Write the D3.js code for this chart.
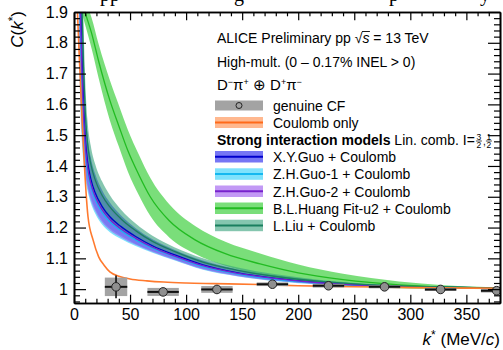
<!DOCTYPE html>
<html><head><meta charset="utf-8">
<script src="https://cdn.jsdelivr.net/npm/d3@7"></script>
<style>
body{margin:0;background:#fff}
svg{display:block}
text{font-family:"Liberation Sans",Arial,Helvetica,sans-serif;fill:#000}
</style>
</head><body><div id="chart"></div>
<script>
// ---------------- data ----------------
const xTicks = [0, 50, 100, 150, 200, 250, 300, 350];
const xMinor = [10,20,30,40,60,70,80,90,110,120,130,140,160,170,180,190,210,220,230,240,260,270,280,290,310,320,330,340,360,370];
const yTicks = [1, 1.1, 1.2, 1.3, 1.4, 1.5, 1.6, 1.7, 1.8, 1.9];
const yMinor = [0.96,0.98,1.02,1.04,1.06,1.08,1.12,1.14,1.16,1.18,1.22,1.24,1.26,1.28,1.32,1.34,1.36,1.38,1.42,1.44,1.46,1.48,1.52,1.54,1.56,1.58,1.62,1.64,1.66,1.68,1.72,1.74,1.76,1.78,1.82,1.84,1.86,1.88];

// genuine CF
const dataK    = [37.5, 79.5, 127.5, 177, 227, 277, 327, 377];
const dataC    = [1.0075, 0.991, 0.999, 1.016, 1.011, 1.0075, 0.999, 0.995];
const dataStat = [0.037, 0.010, 0.007, 0.005, 0.005, 0.004, 0.004, 0.004];
const dataSys  = [0.030, 0.013, 0.011, 0.006, 0.006, 0.005, 0.005, 0.006];
const dataKerr = [10, 14, 14, 14, 14, 14, 14, 14];

// Coulomb only
const coulombK = [2, 12.5, 17, 22, 27, 32, 40, 50, 65, 80, 100, 125, 165, 200, 250, 300, 380];
const coulombC = [2.0, 1.235, 1.16, 1.105, 1.077, 1.056, 1.042, 1.033, 1.027, 1.023, 1.020, 1.018, 1.015, 1.011, 1.008, 1.005, 1.003];

// strong-interaction models (common k grid)
const modelK = [4, 5, 6, 7, 8.5, 10, 12, 15, 19, 25, 32, 42, 55, 70, 90, 115, 145, 180, 220, 270, 320, 380];

const xyGuoLo  = [2.255,1.818,1.644,1.547,1.456,1.392,1.343,1.299,1.261,1.224,1.197,1.173,1.147,1.124,1.097,1.067,1.045,1.028,1.017,1.009,1.005,1.002];
const xyGuoMid = [2.591,2.132,1.913,1.761,1.603,1.494,1.417,1.358,1.312,1.269,1.235,1.203,1.171,1.141,1.111,1.079,1.054,1.035,1.021,1.011,1.007,1.003];
const xyGuoHi  = [2.990,2.504,2.232,2.016,1.778,1.616,1.504,1.428,1.373,1.322,1.281,1.239,1.198,1.162,1.127,1.093,1.065,1.044,1.027,1.014,1.008,1.004];

const zhGuo1Lo  = [2.150,1.720,1.560,1.480,1.410,1.360,1.320,1.280,1.245,1.210,1.185,1.163,1.140,1.118,1.093,1.063,1.042,1.026,1.015,1.008,1.005,1.002];
const zhGuo1Mid = [2.444,1.994,1.795,1.668,1.539,1.450,1.384,1.332,1.290,1.249,1.219,1.190,1.160,1.133,1.105,1.073,1.050,1.032,1.019,1.010,1.006,1.0026];
const zhGuo1Hi  = [2.780,2.308,2.064,1.882,1.686,1.552,1.458,1.391,1.341,1.294,1.257,1.220,1.184,1.151,1.118,1.085,1.059,1.039,1.024,1.013,1.007,1.003];

const zhGuo2Lo  = [2.203,1.769,1.602,1.514,1.433,1.376,1.332,1.289,1.253,1.217,1.191,1.168,1.144,1.121,1.095,1.065,1.043,1.027,1.016,1.008,1.005,1.002];
const zhGuo2Mid = [2.510,2.060,1.850,1.712,1.568,1.470,1.399,1.343,1.300,1.258,1.226,1.195,1.165,1.136,1.107,1.076,1.052,1.034,1.020,1.011,1.006,1.003];
const zhGuo2Hi  = [2.885,2.406,2.148,1.949,1.732,1.584,1.481,1.410,1.357,1.308,1.269,1.230,1.191,1.157,1.122,1.089,1.062,1.041,1.026,1.014,1.008,1.0035];

const liuLo  = [2.518,2.063,1.854,1.715,1.571,1.472,1.401,1.345,1.301,1.259,1.227,1.196,1.166,1.137,1.108,1.076,1.052,1.034,1.020,1.011,1.006,1.003];
const liuMid = [2.864,2.386,2.131,1.936,1.723,1.578,1.476,1.406,1.354,1.305,1.267,1.228,1.190,1.155,1.122,1.088,1.062,1.041,1.025,1.013,1.008,1.003];
const liuHi  = [3.200,2.700,2.400,2.150,1.870,1.680,1.550,1.465,1.405,1.350,1.305,1.258,1.213,1.173,1.135,1.100,1.071,1.048,1.030,1.016,1.009,1.004];

// B.L.Huang Fit-u2 (own k grid)
const huangK   = [5, 9.8, 15.8, 22, 32, 40, 48, 58, 68, 85, 108, 135, 166, 200, 240, 290, 330, 380];
const huangLo  = [1.925,1.860,1.780,1.685,1.548,1.463,1.382,1.304,1.238,1.168,1.115,1.076,1.048,1.026,1.012,1.003,1.001,1.000];
const huangMid = [1.960,1.900,1.830,1.740,1.613,1.530,1.450,1.370,1.300,1.222,1.160,1.115,1.082,1.053,1.031,1.014,1.007,1.003];
const huangHi  = [1.995,1.940,1.880,1.795,1.678,1.597,1.518,1.436,1.362,1.276,1.205,1.154,1.116,1.080,1.050,1.025,1.013,1.006];

// ---------------- chart ----------------
const W = 503, H = 350;
const svg = d3.select("#chart").append("svg").attr("width", W).attr("height", H);
const x = d3.scaleLinear().domain([0, 380]).range([74, 500]);
const y = d3.scaleLinear().domain([0.955, 1.9]).range([303, 12]);

// clipped title fragments at very top
svg.append("text")
  .attr("y", 0.5)
  .style("font-family", "'Liberation Serif','Times New Roman',serif")
  .style("font-size", "20px")
  .call(t => {
    t.append("tspan").attr("x", 100).text("pp");
    t.append("tspan").attr("x", 234).text("g");
    t.append("tspan").attr("x", 389).text("p");
    t.append("tspan").attr("x", 480).text("y");
  });

svg.append("clipPath").attr("id", "plotclip")
  .append("rect").attr("x", 74).attr("y", 12).attr("width", 426).attr("height", 291);
const plot = svg.append("g").attr("clip-path", "url(#plotclip)");

const models = [
  {name: "X.Y.Guo + Coulomb", K: modelK, lo: xyGuoLo, mid: xyGuoMid, hi: xyGuoHi, fill: "#3c3cf0", op: 0.7, line: "#0000cc"},
  {name: "Z.H.Guo-1 + Coulomb", K: modelK, lo: zhGuo1Lo, mid: zhGuo1Mid, hi: zhGuo1Hi, fill: "#2ed0fa", op: 0.62, line: "#14b8f0"},
  {name: "Z.H.Guo-2 + Coulomb", K: modelK, lo: zhGuo2Lo, mid: zhGuo2Mid, hi: zhGuo2Hi, fill: "#9955ee", op: 0.6, line: "#7722cc"},
  {name: "B.L.Huang Fit-u2 + Coulomb", K: huangK, lo: huangLo, mid: huangMid, hi: huangHi, fill: "#33cc33", op: 0.65, line: "#22bb22"},
  {name: "L.Liu + Coulomb", K: modelK, lo: liuLo, mid: liuMid, hi: liuHi, fill: "#33a07a", op: 0.6, line: "#1a7f5f"}
];

models.forEach(m => {
  const idx = d3.range(m.K.length);
  const area = d3.area().x(i => x(m.K[i])).y0(i => y(m.lo[i])).y1(i => y(m.hi[i])).curve(d3.curveMonotoneX);
  plot.append("path").attr("d", area(idx)).attr("fill", m.fill).attr("fill-opacity", m.op).attr("stroke", "none");
});
models.forEach(m => {
  const idx = d3.range(m.K.length);
  const line = d3.line().x(i => x(m.K[i])).y(i => y(m.mid[i])).curve(d3.curveMonotoneX);
  plot.append("path").attr("d", line(idx)).attr("fill", "none").attr("stroke", m.line).attr("stroke-width", 1.3);
});

// Coulomb line
{
  const idx = d3.range(coulombK.length);
  const line = d3.line().x(i => x(coulombK[i])).y(i => y(coulombC[i])).curve(d3.curveMonotoneX);
  plot.append("path").attr("d", line(idx)).attr("fill", "none").attr("stroke", "#ff7a2e").attr("stroke-width", 1.6);
}

// data points
const pts = plot.append("g");
dataK.forEach((k, i) => {
  pts.append("rect")
    .attr("x", x(k - dataKerr[i])).attr("width", x(k + dataKerr[i]) - x(k - dataKerr[i]))
    .attr("y", y(dataC[i] + dataSys[i])).attr("height", y(dataC[i] - dataSys[i]) - y(dataC[i] + dataSys[i]))
    .attr("fill", "#a3a3a3");
});
dataK.forEach((k, i) => {
  pts.append("line").attr("x1", x(k - dataKerr[i])).attr("x2", x(k + dataKerr[i]))
    .attr("y1", y(dataC[i])).attr("y2", y(dataC[i])).attr("stroke", "#111").attr("stroke-width", 2);
  pts.append("line").attr("x1", x(k)).attr("x2", x(k))
    .attr("y1", y(dataC[i] + dataStat[i])).attr("y2", y(dataC[i] - dataStat[i])).attr("stroke", "#111").attr("stroke-width", 1.6);
  pts.append("circle").attr("cx", x(k)).attr("cy", y(dataC[i])).attr("r", 4.3)
    .attr("fill", "#8f8f8f").attr("stroke", "#222").attr("stroke-width", 1);
});

// ---------------- axes ----------------
const axG = svg.append("g");
function styleAxis(g) {
  g.select(".domain").attr("stroke", "#000").attr("stroke-width", 1.6);
  g.selectAll(".tick line").attr("stroke", "#000").attr("stroke-width", 1.2);
  g.selectAll(".tick text").style("font-size", "16px").attr("fill", "#000");
}
axG.append("g").attr("transform", "translate(0,303)")
  .call(d3.axisBottom(x).tickValues(xTicks).tickSize(-8.3).tickSizeOuter(0).tickPadding(6).tickFormat(d3.format("d")))
  .call(styleAxis);
axG.append("g").attr("transform", "translate(0,303)")
  .call(d3.axisBottom(x).tickValues(xMinor).tickSize(-4.3).tickSizeOuter(0).tickFormat(""))
  .call(styleAxis);
axG.append("g").attr("transform", "translate(0,12)")
  .call(d3.axisTop(x).tickValues(xTicks).tickSize(-8.3).tickSizeOuter(0).tickFormat(""))
  .call(styleAxis);
axG.append("g").attr("transform", "translate(0,12)")
  .call(d3.axisTop(x).tickValues(xMinor).tickSize(-4.3).tickSizeOuter(0).tickFormat(""))
  .call(styleAxis);
axG.append("g").attr("transform", "translate(74,0)")
  .call(d3.axisLeft(y).tickValues(yTicks).tickSize(-12).tickSizeOuter(0).tickPadding(6).tickFormat(d3.format("~g")))
  .call(styleAxis);
axG.append("g").attr("transform", "translate(74,0)")
  .call(d3.axisLeft(y).tickValues(yMinor).tickSize(-6).tickSizeOuter(0).tickFormat(""))
  .call(styleAxis);
axG.append("g").attr("transform", "translate(500,0)")
  .call(d3.axisRight(y).tickValues(yTicks).tickSize(-12).tickSizeOuter(0).tickFormat(""))
  .call(styleAxis);
axG.append("g").attr("transform", "translate(500,0)")
  .call(d3.axisRight(y).tickValues(yMinor).tickSize(-6).tickSizeOuter(0).tickFormat(""))
  .call(styleAxis);
axG.selectAll(".tick text").style("font-family", "'Liberation Sans',Arial,sans-serif");

// axis titles
svg.append("text").attr("transform", "translate(23,11) rotate(-90)")
  .attr("text-anchor", "end").style("font-size", "17px")
  .call(t => {
    t.append("tspan").attr("font-style", "italic").text("C");
    t.append("tspan").text("(");
    t.append("tspan").attr("font-style", "italic").text("k");
    t.append("tspan").attr("dy", -6).style("font-size", "12px").text("*");
    t.append("tspan").attr("dy", 6).text(")");
  });
svg.append("text").attr("x", 500).attr("y", 345).attr("text-anchor", "end").style("font-size", "17px")
  .call(t => {
    t.append("tspan").attr("font-style", "italic").text("k");
    t.append("tspan").attr("dy", -6).style("font-size", "12px").text("*");
    t.append("tspan").attr("dy", 6).text(" (MeV/");
    t.append("tspan").attr("font-style", "italic").text("c");
    t.append("tspan").text(")");
  });

// ---------------- legend / labels ----------------
const lg = svg.append("g");
const t1 = lg.append("text").attr("x", 217).attr("y", 43).style("font-size", "14px");
t1.append("tspan").text("ALICE Preliminary pp \u221A");
t1.append("tspan").attr("font-style", "italic").text("s");
t1.append("tspan").text(" = 13 TeV");
{
  const n = t1.node();
  const full = "ALICE Preliminary pp \u221A";
  const ext1 = n.getExtentOfChar(full.length - 1);
  const ext2 = n.getExtentOfChar(full.length);
  lg.append("line").attr("x1", ext1.x + ext1.width - 0.5).attr("x2", ext2.x + ext2.width + 0.5)
    .attr("y1", ext1.y + 1.5).attr("y2", ext1.y + 1.5).attr("stroke", "#000").attr("stroke-width", 0.9);
}
lg.append("text").attr("x", 217).attr("y", 66.5).style("font-size", "14px")
  .text("High-mult. (0 \u2013 0.17% INEL > 0)");
lg.append("text").attr("x", 217).attr("y", 89.5).style("font-size", "15px")
  .call(t => {
    t.append("tspan").text("D");
    t.append("tspan").attr("dy", -5).style("font-size", "9px").text("\u2212");
    t.append("tspan").attr("dy", 5).text("\u03C0");
    t.append("tspan").attr("dy", -5).style("font-size", "9px").text("+");
    t.append("tspan").attr("dy", 5).text(" \u2295 D");
    t.append("tspan").attr("dy", -5).style("font-size", "9px").text("+");
    t.append("tspan").attr("dy", 5).text("\u03C0");
    t.append("tspan").attr("dy", -5).style("font-size", "9px").text("\u2212");
  });

const boxX = 215, boxW = 48, textX = 273;
// genuine CF entry
lg.append("rect").attr("x", boxX).attr("y", 100.5).attr("width", boxW).attr("height", 10).attr("fill", "#a3a3a3");
lg.append("circle").attr("cx", boxX + boxW / 2).attr("cy", 105.5).attr("r", 3).attr("fill", "#a3a3a3").attr("stroke", "#222").attr("stroke-width", 1);
lg.append("text").attr("x", textX).attr("y", 110.5).style("font-size", "14px").text("genuine CF");
// Coulomb entry
lg.append("rect").attr("x", boxX).attr("y", 117).attr("width", boxW).attr("height", 11).attr("fill", "#ff8844").attr("fill-opacity", 0.6);
lg.append("line").attr("x1", boxX).attr("x2", boxX + boxW).attr("y1", 122.5).attr("y2", 122.5).attr("stroke", "#ff6a1a").attr("stroke-width", 2);
lg.append("text").attr("x", textX).attr("y", 127.5).style("font-size", "14px").text("Coulomb only");

// Strong interaction header
const hdr = lg.append("text").attr("x", 217).attr("y", 145).style("font-size", "14px");
hdr.append("tspan").attr("font-weight", "bold").text("Strong interaction models");
hdr.append("tspan").text(" Lin. comb. I=");
{
  const w = hdr.node().getComputedTextLength();
  const fx = 217 + w + 1;
  const fg = lg.append("g").style("font-size", "8.5px");
  fg.append("text").attr("x", fx + 3).attr("y", 139.5).attr("text-anchor", "middle").style("font-size", "8.5px").text("3");
  fg.append("line").attr("x1", fx).attr("x2", fx + 6).attr("y1", 141).attr("y2", 141).attr("stroke", "#000").attr("stroke-width", 0.7);
  fg.append("text").attr("x", fx + 3).attr("y", 148).attr("text-anchor", "middle").style("font-size", "8.5px").text("2");
  fg.append("text").attr("x", fx + 7).attr("y", 145).style("font-size", "10px").text(",");
  fg.append("text").attr("x", fx + 13).attr("y", 139.5).attr("text-anchor", "middle").style("font-size", "8.5px").text("1");
  fg.append("line").attr("x1", fx + 10).attr("x2", fx + 16).attr("y1", 141).attr("y2", 141).attr("stroke", "#000").attr("stroke-width", 0.7);
  fg.append("text").attr("x", fx + 13).attr("y", 148).attr("text-anchor", "middle").style("font-size", "8.5px").text("2");
}

const entryBaselines = [162, 179.3, 196.5, 213.5, 230.7];
models.forEach((m, i) => {
  const b = entryBaselines[i];
  lg.append("rect").attr("x", boxX).attr("y", b - 11).attr("width", boxW).attr("height", 11.5)
    .attr("fill", m.fill).attr("fill-opacity", m.op);
  lg.append("line").attr("x1", boxX).attr("x2", boxX + boxW).attr("y1", b - 5.3).attr("y2", b - 5.3)
    .attr("stroke", m.line).attr("stroke-width", 2);
  lg.append("text").attr("x", textX).attr("y", b).style("font-size", "14px").text(m.name);
});
</script>
</body></html>
